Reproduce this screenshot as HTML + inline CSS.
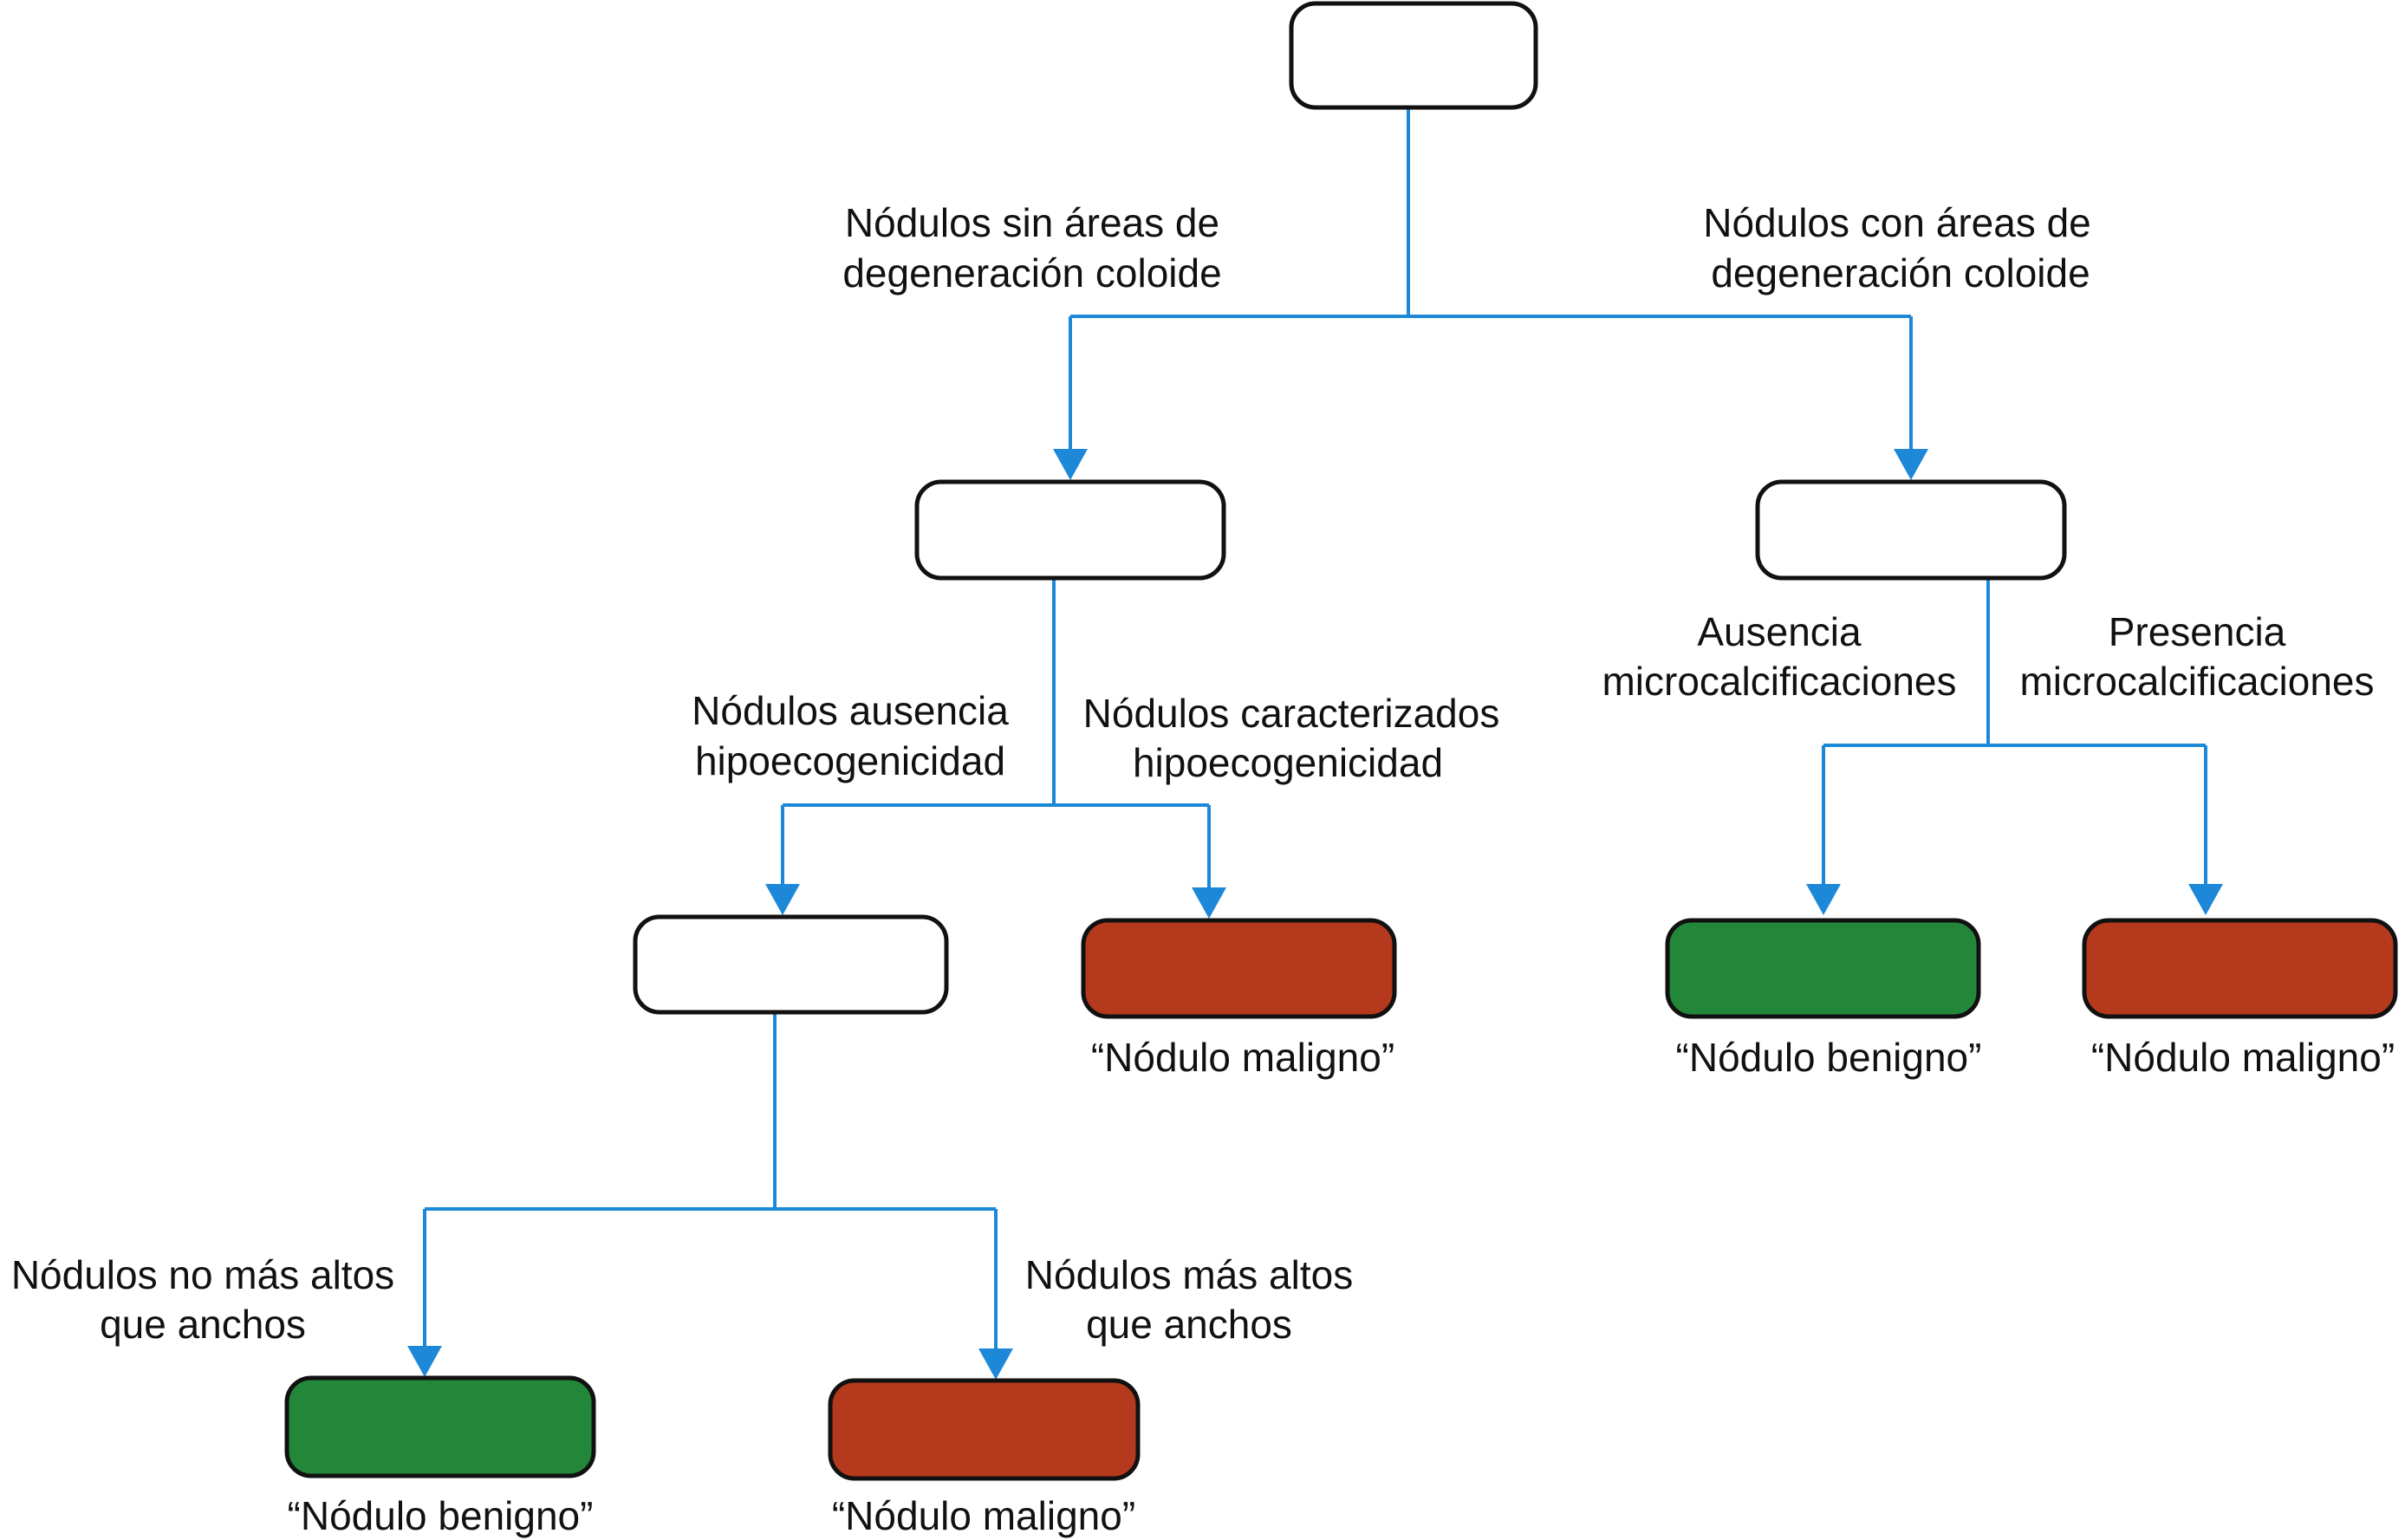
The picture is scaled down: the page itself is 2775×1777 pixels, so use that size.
<!DOCTYPE html>
<html><head><meta charset="utf-8"><style>
html,body{margin:0;padding:0;background:#fff;}
svg{display:block;}
text{font-family:"Liberation Sans",Arial,sans-serif;font-size:46px;fill:#111;text-anchor:middle;dominant-baseline:central;}
</style></head><body>
<svg width="2775" height="1777" viewBox="0 0 2775 1777" xmlns="http://www.w3.org/2000/svg">
<defs>
<marker id="a" markerWidth="10" markerHeight="10" refX="5" refY="9" orient="auto" markerUnits="userSpaceOnUse" viewBox="0 0 10 10"></marker>
</defs>
<g stroke="#1e88d8" stroke-width="4" fill="none">
<path d="M1625 124 V365 M1235 365 H2205 M1235 365 V520 M2205 365 V520"/>
<path d="M1216 667 V929 M903 929 H1395 M903 929 V1022 M1395 929 V1026"/>
<path d="M2294 667 V860 M2104 860 H2545 M2104 860 V1022 M2545 860 V1022"/>
<path d="M894 1168 V1395 M490 1395 H1149 M490 1395 V1555 M1149 1395 V1558"/>
</g>
<g fill="#1e88d8">
<polygon points="1215,518 1255,518 1235,554"/>
<polygon points="2185,518 2225,518 2205,554"/>
<polygon points="883,1020 923,1020 903,1056"/>
<polygon points="1375,1024 1415,1024 1395,1060"/>
<polygon points="2084,1020 2124,1020 2104,1056"/>
<polygon points="2525,1020 2565,1020 2545,1056"/>
<polygon points="470,1553 510,1553 490,1589"/>
<polygon points="1129,1556 1169,1556 1149,1592"/>
</g>
<g stroke="#111" stroke-width="5">
<rect x="1490" y="4" width="282" height="120" rx="28" fill="#fff"/>
<rect x="1058" y="556" width="354" height="111" rx="28" fill="#fff"/>
<rect x="2028" y="556" width="354" height="111" rx="28" fill="#fff"/>
<rect x="733" y="1058" width="359" height="110" rx="28" fill="#fff"/>
<rect x="1250" y="1062" width="359" height="111" rx="28" fill="#b5391c"/>
<rect x="1924" y="1062" width="359" height="111" rx="28" fill="#23873a"/>
<rect x="2405" y="1062" width="359" height="111" rx="28" fill="#b5391c"/>
<rect x="331" y="1590" width="354" height="113" rx="28" fill="#23873a"/>
<rect x="958" y="1593" width="355" height="113" rx="28" fill="#b5391c"/>
</g>
<text x="1191" y="257">Nódulos sin áreas de</text>
<text x="1191" y="315">degeneración coloide</text>
<text x="2189" y="257">Nódulos con áreas de</text>
<text x="2193" y="315">degeneración coloide</text>
<text x="981" y="820">Nódulos ausencia</text>
<text x="981" y="878">hipoecogenicidad</text>
<text x="1490" y="823">Nódulos caracterizados</text>
<text x="1486" y="880">hipoecogenicidad</text>
<text x="2053" y="729">Ausencia</text>
<text x="2053" y="786">microcalcificaciones</text>
<text x="2535" y="729">Presencia</text>
<text x="2535" y="786">microcalcificaciones</text>
<text x="234" y="1471">Nódulos no más altos</text>
<text x="234" y="1528">que anchos</text>
<text x="1372" y="1471">Nódulos más altos</text>
<text x="1372" y="1528">que anchos</text>
<text x="1434" y="1220">“Nódulo maligno”</text>
<text x="2110" y="1220">“Nódulo benigno”</text>
<text x="2588" y="1220">“Nódulo maligno”</text>
<text x="508" y="1749">“Nódulo benigno”</text>
<text x="1135" y="1749">“Nódulo maligno”</text>
</svg>
</body></html>
